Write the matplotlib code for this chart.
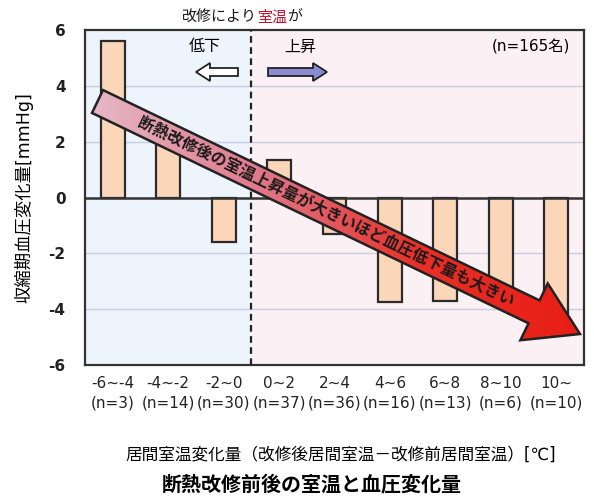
import numpy as np
import matplotlib
matplotlib.use("Agg")
import matplotlib.pyplot as plt
from matplotlib.patches import Polygon, FancyArrow
from matplotlib.transforms import Affine2D, offset_copy
from matplotlib.colors import LinearSegmentedColormap

plt.rcParams['font.family'] = ['DejaVu Sans', 'Noto Sans CJK JP']

# data
ranges = ["-6~-4", "-4~-2", "-2~0", "0~2", "2~4", "4~6", "6~8", "8~10", "10~"]
counts = [3, 14, 30, 37, 36, 16, 13, 6, 10]
bp_change = [5.6, 2.3, -1.6, 1.35, -1.3, -3.75, -3.7, -3.6, -4.4]
yticks = [-6, -4, -2, 0, 2, 4, 6]

W, H, DPI = 594, 499, 100
fig = plt.figure(figsize=(W / DPI, H / DPI), dpi=DPI)
ax = fig.add_axes([85 / W, 1 - 365 / H, 499 / W, 335 / H])

# pixel coords (origin top-left) -> display
px = Affine2D().scale(1 / DPI, -1 / DPI).translate(0, H / DPI) + fig.dpi_scale_trans

x = np.arange(len(ranges))
split = 2.5
ax.set_xlim(-0.5, len(ranges) - 0.5)
ax.set_ylim(-6, 6)
ax.axvspan(-0.5, split, color="#eef4fb", zorder=0)
ax.axvspan(split, len(ranges) - 0.5, color="#fbf0f3", zorder=0)
for v in [-4, -2, 2, 4]:
    ax.axhline(v, color="#c9cde3", lw=1.0, zorder=1)

ax.bar(x, bp_change, width=0.43, color="#fcd6b8", edgecolor="#2b2b2b", lw=1.6, zorder=2)
ax.axhline(0, color="#333333", lw=1.8, zorder=3)
ax.axvline(split, color="#222222", lw=1.6, ls=(0, (3, 2)), zorder=3)

for s in ax.spines.values():
    s.set_color("#333333")
    s.set_linewidth(1.6)
ax.set_yticks(yticks)
ax.set_yticklabels([str(v) for v in yticks], fontsize=11, fontweight="bold", color="#222222")
ax.set_xticks(x)
ax.set_xticklabels([f"{r}\n(n={c})" for r, c in zip(ranges, counts)], fontsize=11, color="#222222",
                   linespacing=1.35)
ax.tick_params(length=0, pad=8)
ax.tick_params(axis="y", pad=14)
ax.set_ylabel("収縮期血圧変化量[mmHg]", fontsize=12.5, labelpad=11)

# title above the plot, with the red part
parts = [("改修により", "#1a1a1a"), ("室温", "#c8102e"), ("が", "#1a1a1a")]
renderer = fig.canvas.get_renderer()
xpos = 182
for txt, col in parts:
    t = fig.text(0, 0, txt, fontsize=10.8, ha="left", va="center", color=col,
                 transform=offset_copy(px, fig=fig, x=0, y=0, units="dots"))
    t.set_position((xpos, 17))
    xpos += t.get_window_extent(renderer).width

fig.text(205 / W, 1 - 47 / H, "低下", fontsize=11.5, ha="center", va="center")
fig.text(300 / W, 1 - 47 / H, "上昇", fontsize=11.5, ha="center", va="center")
fig.text(531 / W, 1 - 47 / H, "(n=165名)", fontsize=11, ha="center", va="center")

fig.patches.append(FancyArrow(238, 72, -42, 0, width=8, head_width=18, head_length=14,
                              length_includes_head=True, fc="white", ec="#222222", lw=1.3,
                              transform=px, figure=fig))
fig.patches.append(FancyArrow(268, 72, 59, 0, width=8, head_width=18, head_length=14,
                              length_includes_head=True, fc="#8c8cd2", ec="#222222", lw=1.3,
                              transform=px, figure=fig))

# big diagonal arrow
T = np.array([97.5, 101.5])
P = np.array([580.0, 334.0])
L = np.hypot(*(P - T))
u = (P - T) / L
n = np.array([-u[1], u[0]])
hb, hh, hl = 12.7, 31.5, 51.0
N = P - hl * u
pts = [T + hb * n, N + hb * n, N + hh * n, P, N - hh * n, N - hb * n, T - hb * n]
poly = Polygon(pts, closed=True, transform=px, fc="none", ec="#222222", lw=1.8, zorder=6)
ax.add_patch(poly)
poly.set_clip_on(False)
cmap = LinearSegmentedColormap.from_list("arr", ["#e6b8c6", "#e07a8c", "#e83028", "#e81e14"])
xs = np.array(pts)[:, 0]
ys = np.array(pts)[:, 1]
grad = np.linspace(0, 1, 256).reshape(1, -1)
im = ax.imshow(grad, cmap=cmap, aspect="auto", transform=px, zorder=5,
               extent=[xs.min(), xs.max(), ys.max(), ys.min()])
im.set_clip_path(Polygon(pts, closed=True, transform=px))
ax.set_xlim(-0.5, len(ranges) - 0.5)
ax.set_ylim(-6, 6)

ang = np.degrees(np.arctan2(u[1], u[0]))
C = T + (326 - T[0]) / u[0] * u
fig.text(C[0] / W, 1 - C[1] / H, "断熱改修後の室温上昇量が大きいほど血圧低下量も大きい",
         fontsize=11.5, fontweight="bold", rotation=-ang, rotation_mode="anchor",
         ha="center", va="center", color="#1a1a1a", zorder=10)

fig.text(341 / W, 1 - 455 / H, "居間室温変化量（改修後居間室温－改修前居間室温）[℃]",
         fontsize=12, ha="center", va="center")
fig.text(312 / W, 1 - 484 / H, "断熱改修前後の室温と血圧変化量", fontsize=14.4,
         fontweight="bold", ha="center", va="center")

fig.savefig("out.png", dpi=DPI)
